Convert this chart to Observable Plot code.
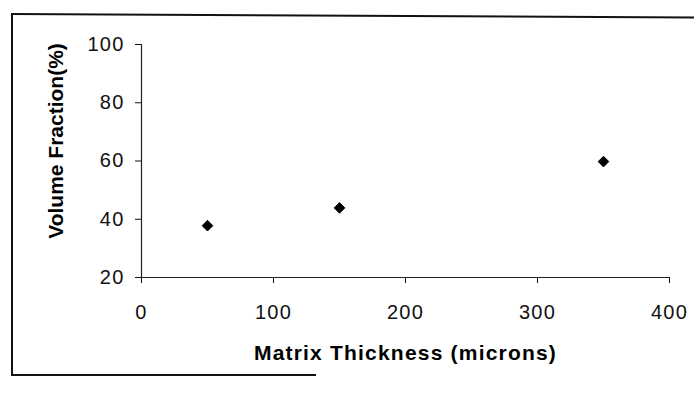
<!DOCTYPE html>
<html>
<head>
<meta charset="utf-8">
<script src="https://cdn.jsdelivr.net/npm/d3@7"></script>
<script src="https://cdn.jsdelivr.net/npm/@observablehq/plot@0.6"></script>
<style>
  html, body { margin: 0; padding: 0; background: #fff; }
  #wrap { position: relative; width: 694px; height: 404px; overflow: hidden; }
  .bline { position: absolute; background: #111; }
</style>
</head>
<body>
<div id="wrap">
  <div class="bline" style="left:11px; top:13px; width:690px; height:2px; transform-origin:0 0; transform:rotate(0.29deg);"></div>
  <div class="bline" style="left:11px; top:13px; width:2px; height:363px;"></div>
  <div class="bline" style="left:11px; top:374px; width:305px; height:2px;"></div>
</div>
<script>
// Data
const thickness = [50, 150, 350];          // Matrix Thickness (microns)
const volumeFraction = [37.8, 43.9, 59.8]; // Volume Fraction (%)
const xTicks = [0, 100, 200, 300, 400];
const yTicks = [20, 40, 60, 80, 100];
const xTitle = "Matrix Thickness (microns)";
const yTitle = "Volume Fraction(%)";

const points = thickness.map((t, i) => ({t, v: volumeFraction[i]}));

const chart = Plot.plot({
  width: 694,
  height: 404,
  marginLeft: 141,
  marginRight: 25,
  marginTop: 44,
  marginBottom: 127,
  style: {
    fontFamily: "'Liberation Sans', Arial, sans-serif",
    fontSize: "20px",
    color: "#111",
    background: "transparent",
    letterSpacing: "1.2px"
  },
  x: {domain: [0, 400], ticks: xTicks, tickSize: 6, tickPadding: 21, label: null, tickFormat: d => String(d)},
  y: {domain: [20, 100], ticks: yTicks, tickSize: 6, tickPadding: 11, label: null, tickFormat: d => String(d)},
  marks: [
    Plot.ruleX([0], {stroke: "#222", strokeWidth: 1.2}),
    Plot.ruleY([20], {stroke: "#222", strokeWidth: 1.2}),
    Plot.dot(points, {x: "t", y: "v", symbol: "diamond2", r: 4.8, fill: "#000", stroke: "#000", strokeWidth: 1}),
    Plot.text([yTitle], {
      text: d => d, frameAnchor: "left", textAnchor: "middle", lineAnchor: "middle",
      rotate: -90, dx: -85.5, dy: -20,
      fontWeight: "bold", fontSize: 21, fill: "#000"
    }),
    Plot.text([xTitle], {
      text: d => d, frameAnchor: "bottom", textAnchor: "middle", lineAnchor: "middle", dy: 76,
      fontWeight: "bold", fontSize: 21, fill: "#000"
    })
  ]
});
d3.select(chart).selectAll("text")
  .filter(function () { return this.textContent === yTitle; })
  .style("letter-spacing", "0px");
chart.style.position = "absolute";
chart.style.left = "0px";
chart.style.top = "0px";
document.getElementById("wrap").appendChild(chart);
</script>
</body>
</html>
